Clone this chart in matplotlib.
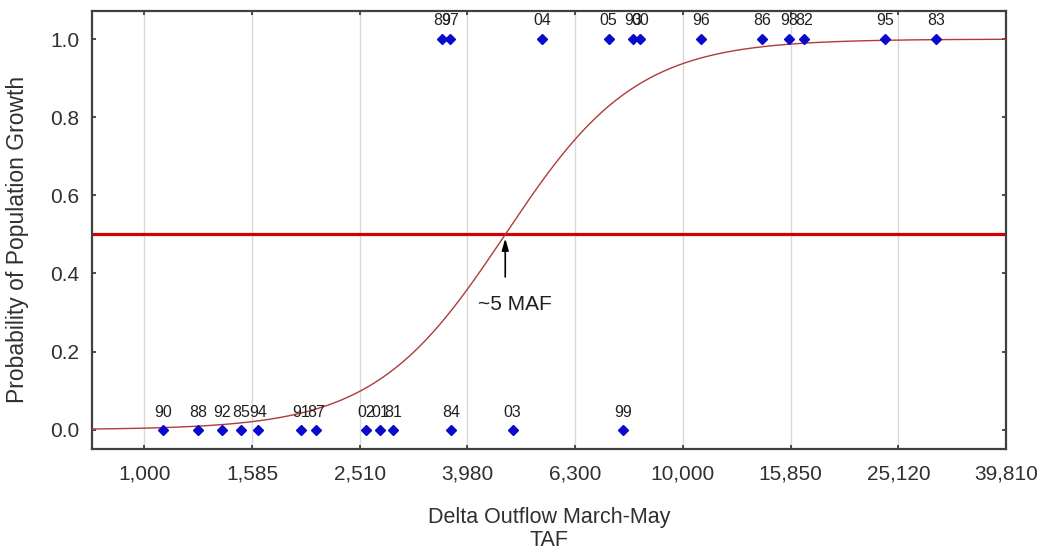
import matplotlib.pyplot as plt
import numpy as np

plt.rcParams['font.family'] = ['Liberation Sans', 'DejaVu Sans']

# Delta outflow (TAF, March-May) by water year; 0 = no growth, 1 = growth
years_no_growth = ['90', '88', '92', '85', '94', '91', '87', '02', '01', '81', '84', '03', '99']
flow_no_growth = [1081, 1257, 1394, 1510, 1625, 1957, 2081, 2577, 2739, 2894, 3706, 4827, 7737]

years_growth = ['89', '97', '04', '05', '93', '00', '96', '86', '98', '82', '95', '83']
flow_growth = [3571, 3695, 5474, 7275, 8078, 8325, 10814, 14047, 15754, 16760, 23757, 29487]

# logistic fit on log10(flow)
fit_slope = 8.2
fit_mid = 3.67

xtick_vals = [1000, 1585, 2510, 3980, 6300, 10000, 15850, 25120, 39810]
xtick_labels = ['1,000', '1,585', '2,510', '3,980', '6,300', '10,000', '15,850', '25,120', '39,810']
ytick_vals = [0.0, 0.2, 0.4, 0.6, 0.8, 1.0]

fig = plt.figure(figsize=(10.42, 5.57), dpi=100)
ax = fig.add_axes([0.088, 0.1934, 0.8775, 0.7869])

ax.set_xscale('log')
ax.set_xlim(798, 39810)
ax.set_ylim(-0.05, 1.072)

# fitted curve
xs = np.logspace(np.log10(798), np.log10(39810), 400)
ps = 1.0 / (1.0 + np.exp(-fit_slope * (np.log10(xs) - fit_mid)))
ax.plot(xs, ps, color='#b03a3a', lw=1.0, zorder=3)

ax.axhline(0.5, color='#d40000', lw=2.3, zorder=2)

ax.plot(flow_no_growth, [0] * len(flow_no_growth), 'D', color='#0a0acc', ms=5.2, zorder=4)
ax.plot(flow_growth, [1] * len(flow_growth), 'D', color='#0a0acc', ms=5.2, zorder=4)

for x, lab in zip(flow_no_growth, years_no_growth):
    ax.annotate(lab, (x, 0), xytext=(0, 9.5), textcoords='offset points',
                ha='center', va='baseline', fontsize=11.5, color='#202020')
for x, lab in zip(flow_growth, years_growth):
    ax.annotate(lab, (x, 1), xytext=(0, 10.5), textcoords='offset points',
                ha='center', va='baseline', fontsize=11.5, color='#202020')

# 50% crossing marker
x50 = 10 ** fit_mid
ax.annotate('', xy=(x50, 0.497), xytext=(x50, 0.384),
            arrowprops=dict(arrowstyle='-|>,head_length=0.7,head_width=0.2',
                            color='black', lw=1.2))
ax.text(x50 * 1.04, 0.32, '~5 MAF', ha='center', va='center', fontsize=15, color='#202020')

ax.set_xticks(xtick_vals)
ax.set_xticklabels(xtick_labels)
ax.xaxis.set_minor_locator(plt.NullLocator())
ax.set_yticks(ytick_vals)
ax.set_yticklabels([f'{v:.1f}' for v in ytick_vals])
ax.tick_params(direction='in', length=3, width=1.2, color='#303030',
               top=True, right=True, labelsize=15, colors='#303030')
ax.tick_params(axis='x', pad=11)
ax.tick_params(axis='y', pad=9)

ax.grid(True, axis='x', color='#d8d8d8', lw=1.0)
ax.set_axisbelow(True)
for s in ax.spines.values():
    s.set_color('#404040')
    s.set_linewidth(1.6)

ax.set_xlabel('Delta Outflow March-May\nTAF', fontsize=15.5, color='#303030',
              linespacing=1.1, labelpad=17)
ax.set_ylabel('Probability of Population Growth', fontsize=16.5, color='#303030')
ax.yaxis.set_label_coords(-0.069, 0.478)

fig.savefig('out.png', dpi=100)
